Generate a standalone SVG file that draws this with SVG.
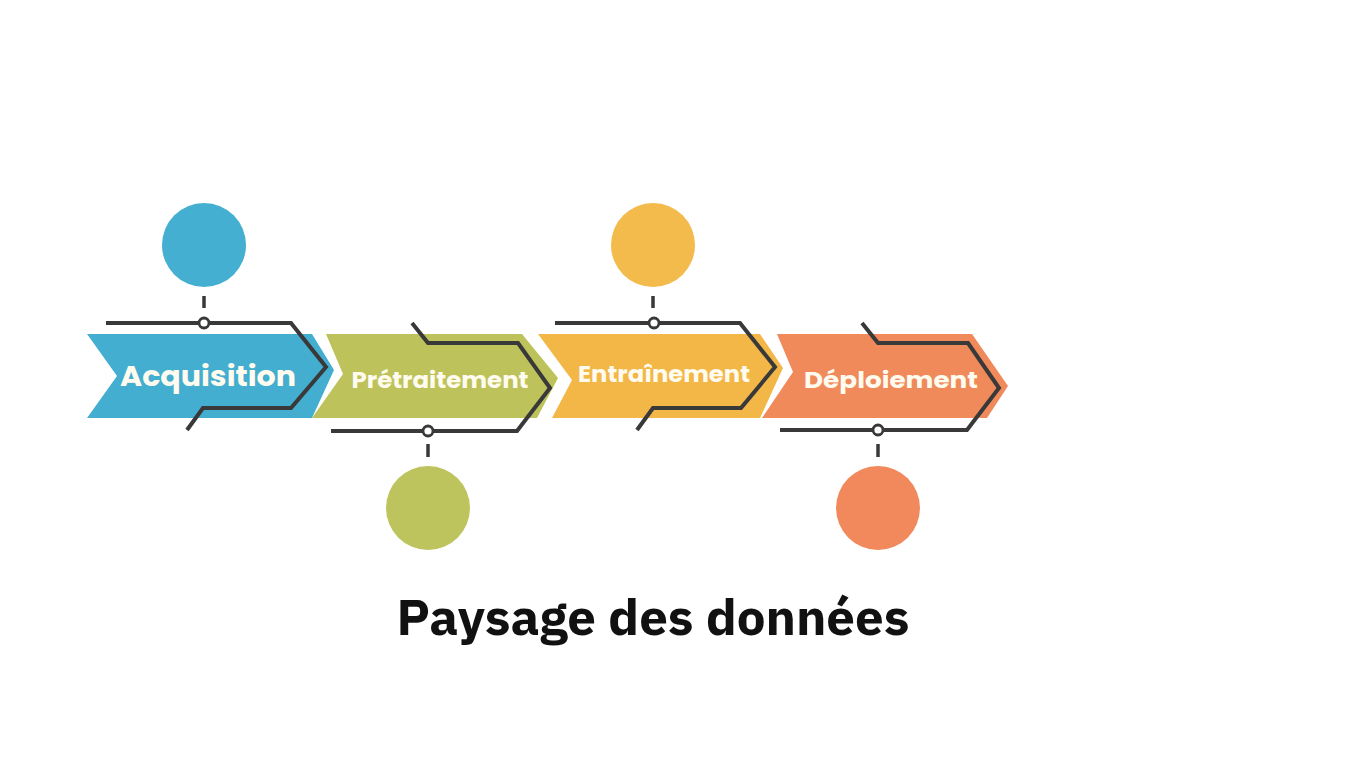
<svg xmlns="http://www.w3.org/2000/svg" width="1365" height="768" viewBox="0 0 1365 768">
<style>
.lbl{font-family:"Poppins","Noto Sans","Open Sans","Liberation Sans",sans-serif;font-weight:700;fill:#FFFBEE;text-anchor:middle}
.ln{fill:none;stroke:#393939;stroke-width:4;stroke-linejoin:miter;stroke-linecap:butt}
.tick{stroke:#393939;stroke-width:3.5}
.dot{fill:#ffffff;stroke:#393939;stroke-width:2.8}
.title{font-family:"IBM Plex Sans","Noto Sans","Open Sans","Liberation Sans",sans-serif;font-weight:700;fill:#111111;text-anchor:middle}
</style>
<rect width="1365" height="768" fill="#ffffff"/>
<g id="node-acquisition">
<circle cx="204" cy="245" r="42" fill="#44AFD1"/>
<polygon points="87,334 312,334 334,370 312,418 87,418 117,376" fill="#43AED0"/>
<text class="lbl" x="208" y="386" font-size="28" textLength="176" lengthAdjust="spacingAndGlyphs">Acquisition</text>
</g>
<g id="node-pretraitement">
<circle cx="428" cy="508" r="42" fill="#BEC45D"/>
<polygon points="326,334 522,334 558,378 537,418 312,418 343,374" fill="#BDC35A"/>
<text class="lbl" x="440" y="388" font-size="22" textLength="177" lengthAdjust="spacingAndGlyphs">Prétraitement</text>
</g>
<g id="node-entrainement">
<circle cx="653" cy="245" r="42" fill="#F3BA4C"/>
<polygon points="538,334 760,334 783,368 760,418 552,418 572,380" fill="#F2B747"/>
<text class="lbl" x="664" y="382" font-size="22" textLength="172" lengthAdjust="spacingAndGlyphs">Entraînement</text>
</g>
<g id="node-deploiement">
<circle cx="878" cy="508" r="42" fill="#F2895C"/>
<polygon points="777,334 972,334 1008,386 987,418 762,418 793,372" fill="#F08A5B"/>
<text class="lbl" x="891" y="388" font-size="23" textLength="174" lengthAdjust="spacingAndGlyphs">Déploiement</text>
</g>
<g id="connectors">
<line class="tick" x1="204" y1="296" x2="204" y2="308"/>
<polyline class="ln" points="106,323 291,323 326,367 291,408 203,408 187,430"/>
<circle class="dot" cx="204" cy="323" r="5"/>
<line class="tick" x1="428" y1="444" x2="428" y2="457"/>
<polyline class="ln" points="412,323 428,343 518,343 550,388 517,431 331,431"/>
<circle class="dot" cx="428" cy="431" r="5"/>
<line class="tick" x1="653" y1="296" x2="653" y2="308"/>
<polyline class="ln" points="555,323 740,323 775,367 741,408 653,408 637,430"/>
<circle class="dot" cx="654" cy="323" r="5"/>
<line class="tick" x1="878" y1="444" x2="878" y2="457"/>
<polyline class="ln" points="862,323 878,343 968,343 999,388 967,430 780,430"/>
<circle class="dot" cx="878" cy="430" r="5"/>
</g>
<text class="title" x="653" y="635" font-size="50" textLength="513" lengthAdjust="spacingAndGlyphs">Paysage des données</text>
</svg>
